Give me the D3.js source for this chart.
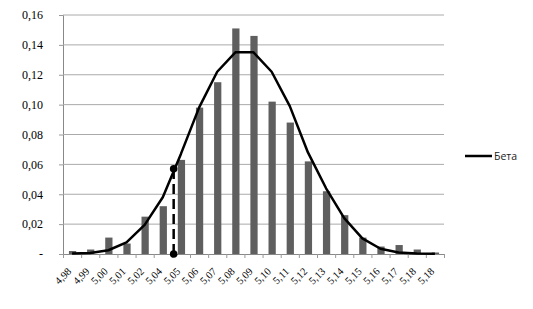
<!DOCTYPE html>
<html><head><meta charset="utf-8">
<script src="https://cdn.jsdelivr.net/npm/d3@7"></script>
<style>body{margin:0;background:#fff}svg{display:block}</style>
</head><body>
<script>
const categories = ["4,98","4,99","5,00","5,01","5,02","5,04","5,05","5,06","5,07","5,08","5,09","5,10","5,11","5,12","5,13","5,14","5,15","5,16","5,17","5,18","5,18"];
const barValues = [0.002,0.003,0.011,0.007,0.025,0.032,0.063,0.098,0.115,0.151,0.146,0.102,0.088,0.062,0.042,0.026,0.011,0.005,0.006,0.003,0.001];
const betaValues = [0.0003,0.0006,0.0025,0.0078,0.0195,0.038,0.067,0.098,0.122,0.135,0.135,0.122,0.099,0.068,0.044,0.024,0.0105,0.0035,0.001,0.0003,0.0001];
const yTicks = [0,0.02,0.04,0.06,0.08,0.10,0.12,0.14,0.16];
const markerPosition = 5.6;
const markerValues = [0, 0.057];
const seriesName = "Бета";

const W=533,H=309;
const m={left:63,right:89,top:15,bottom:55};
const svg=d3.select("body").append("svg").attr("width",W).attr("height",H);
const x=d3.scaleBand().domain(d3.range(categories.length)).range([m.left,W-m.right]).paddingInner(0.6).paddingOuter(0.3);
const xi=d3.scaleLinear().domain([-0.5,categories.length-0.5]).range([m.left,W-m.right]);
const y=d3.scaleLinear().domain([0,0.16]).range([H-m.bottom,m.top]);

// gridlines + y axis
const fmt=v=>v===0?"-":d3.format(".2f")(v).replace(".",",");
const ya=svg.append("g").attr("transform",`translate(${m.left},0)`)
  .call(d3.axisLeft(y).tickValues(yTicks).tickFormat(fmt).tickSize(4).tickPadding(16));
ya.select(".domain").attr("stroke","#888");
ya.selectAll(".tick line").attr("stroke","#999");
ya.selectAll(".tick text").attr("font-family","'Liberation Serif',serif").attr("font-size",12).attr("fill","#000");
svg.append("g").selectAll("line").data(yTicks.filter(v=>v>0)).join("line")
  .attr("x1",m.left).attr("x2",W-m.right).attr("y1",d=>y(d)).attr("y2",d=>y(d))
  .attr("stroke","#aaa").attr("stroke-width",1);

// bars
svg.append("g").selectAll("rect").data(barValues).join("rect")
  .attr("x",(d,i)=>x(i)+0.5).attr("width",x.bandwidth()).attr("y",d=>y(d)).attr("height",d=>y(0)-y(d))
  .attr("fill","#5f5f5f");

// x axis
const xa=svg.append("g").attr("transform",`translate(0,${y(0)})`)
  .call(d3.axisBottom(xi).tickValues(d3.range(-0.5,categories.length,1)).tickFormat("").tickSize(4));
xa.select(".domain").attr("stroke","#888");
xa.selectAll(".tick line").attr("stroke","#999");
svg.append("g").selectAll("text").data(categories).join("text")
  .attr("transform",(d,i)=>`translate(${xi(i)},${y(0)+18}) rotate(-45)`)
  .attr("text-anchor","end").attr("font-family","'Liberation Serif',serif").attr("font-size",10.5)
  .text(d=>d);

// beta line
svg.append("path").datum(betaValues)
  .attr("d",d3.line().x((d,i)=>xi(i)).y(d=>y(d)))
  .attr("fill","none").attr("stroke","#000").attr("stroke-width",2.5).attr("stroke-linejoin","round");

// marker
svg.append("line").attr("x1",xi(markerPosition)).attr("x2",xi(markerPosition))
  .attr("y1",y(markerValues[0])).attr("y2",y(markerValues[1]))
  .attr("stroke","#000").attr("stroke-width",2.5).attr("stroke-dasharray","10,5");
svg.append("g").selectAll("circle").data(markerValues).join("circle")
  .attr("cx",xi(markerPosition)).attr("cy",d=>y(d)).attr("r",3.8).attr("fill","#000");

// legend
const lg=svg.append("g").attr("transform","translate(465,156)");
lg.append("line").attr("x1",0).attr("x2",27).attr("stroke","#000").attr("stroke-width",2.5);
lg.append("text").attr("x",29).attr("y",4).attr("font-family","'Open Sans',sans-serif").attr("font-size",10.5).attr("fill","#222").text(seriesName);
</script>
</body></html>
